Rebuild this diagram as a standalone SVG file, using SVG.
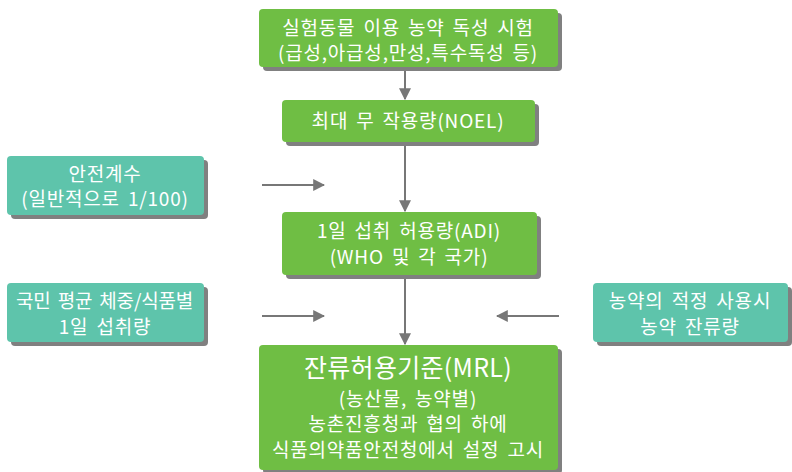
<svg xmlns="http://www.w3.org/2000/svg" width="792" height="472" viewBox="0 0 792 472">
<defs>
<style>
.g{fill:#6fbe44}
.t{fill:#5ec4ab}
.sh{fill:#808080}
.tx{fill:#fff;font-family:"Noto Sans CJK KR","Noto Sans",sans-serif;text-anchor:middle;font-size:19px;letter-spacing:0.8px;word-spacing:3px}
.big{font-size:25px;letter-spacing:0.3px}
.ln{stroke:#777;stroke-width:2;fill:none}
</style>
<marker id="ah" viewBox="0 0 10 10" refX="9" refY="5" markerWidth="6" markerHeight="6" orient="auto">
<path d="M0,0L10,5L0,10z" fill="#777"/>
</marker>
</defs>
<g id="connectors">
<line class="ln" x1="405" y1="67" x2="405" y2="99" marker-end="url(#ah)"/>
<line class="ln" x1="405" y1="142" x2="405" y2="211" marker-end="url(#ah)"/>
<line class="ln" x1="405" y1="275" x2="405" y2="344" marker-end="url(#ah)"/>
<line class="ln" x1="262" y1="185" x2="324" y2="185" marker-end="url(#ah)"/>
<line class="ln" x1="262" y1="316" x2="324" y2="316" marker-end="url(#ah)"/>
<line class="ln" x1="559" y1="316" x2="497" y2="316" marker-end="url(#ah)"/>
</g>
<g id="n1">
<rect class="sh" x="263" y="13" width="299" height="58" rx="4"/>
<rect class="g" x="259" y="9" width="299" height="58" rx="4"/>
<text class="tx" x="408" y="35">실험동물 이용 농약 독성 시험</text>
<text class="tx" x="408" y="60">(급성,아급성,만성,특수독성 등)</text>
</g>
<g id="n2">
<rect class="sh" x="286" y="104" width="253" height="42" rx="4"/>
<rect class="g" x="282" y="100" width="253" height="42" rx="4"/>
<text class="tx" x="408" y="128">최대 무 작용량(NOEL)</text>
</g>
<g id="n3">
<rect class="sh" x="286" y="216" width="255" height="63" rx="4"/>
<rect class="g" x="282" y="212" width="255" height="63" rx="4"/>
<text class="tx" x="409" y="238">1일 섭취 허용량(ADI)</text>
<text class="tx" x="409" y="264">(WHO 및 각 국가)</text>
</g>
<g id="n4">
<rect class="sh" x="263" y="349" width="299" height="125" rx="4"/>
<rect class="g" x="259" y="345" width="299" height="125" rx="4"/>
<text class="tx big" x="408" y="377">잔류허용기준(MRL)</text>
<text class="tx" x="408" y="406">(농산물, 농약별)</text>
<text class="tx" x="408" y="431">농촌진흥청과 협의 하에</text>
<text class="tx" x="408" y="457">식품의약품안전청에서 설정 고시</text>
</g>
<g id="s1">
<rect class="sh" x="11" y="160" width="197" height="59" rx="4"/>
<rect class="t" x="7" y="156" width="197" height="59" rx="4"/>
<text class="tx" x="105" y="181">안전계수</text>
<text class="tx" x="105" y="206">(일반적으로 1/100)</text>
</g>
<g id="s2">
<rect class="sh" x="11" y="287" width="197" height="59" rx="4"/>
<rect class="t" x="7" y="283" width="197" height="59" rx="4"/>
<text class="tx" x="105" y="308" textLength="178" lengthAdjust="spacing">국민 평균 체중/식품별</text>
<text class="tx" x="105" y="334">1일 섭취량</text>
</g>
<g id="s3">
<rect class="sh" x="597" y="287" width="195" height="59" rx="4"/>
<rect class="t" x="593" y="283" width="195" height="59" rx="4"/>
<text class="tx" x="690" y="308">농약의 적정 사용시</text>
<text class="tx" x="690" y="334">농약 잔류량</text>
</g>
</svg>
